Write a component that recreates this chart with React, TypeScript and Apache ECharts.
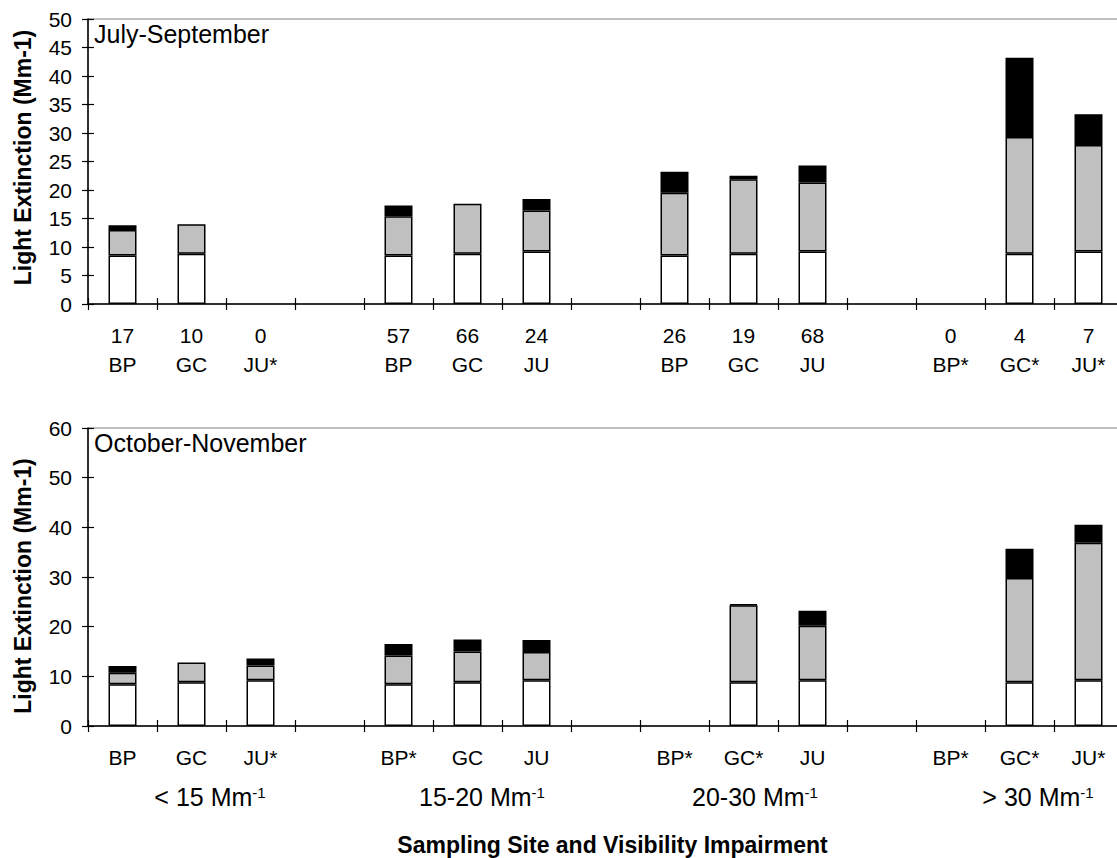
import React, { useEffect, useRef } from "react";
import * as echarts from "echarts";

// ---------- data ----------
const categoryIds = ["0", "1", "2", "3", "4", "5", "6", "7", "8", "9", "10", "11", "12", "13", "14"];

const topCounts = ["17", "10", "0", "", "57", "66", "24", "", "26", "19", "68", "", "0", "4", "7"];
const topSites = ["BP", "GC", "JU*", "", "BP", "GC", "JU", "", "BP", "GC", "JU", "", "BP*", "GC*", "JU*"];
const bottomSites = ["BP", "GC", "JU*", "", "BP*", "GC", "JU", "", "BP*", "GC*", "JU", "", "BP*", "GC*", "JU*"];

// July-September
const topWhite = [8.5, 8.8, null, null, 8.5, 8.8, 9.2, null, 8.5, 8.8, 9.2, null, null, 8.8, 9.2];
const topGray = [4.5, 5.2, null, null, 6.9, 8.8, 7.2, null, 11.0, 13.1, 12.1, null, null, 20.5, 18.7];
const topBlack = [0.8, null, null, null, 1.9, null, 2.0, null, 3.7, 0.6, 3.0, null, null, 13.9, 5.4];

// October-November
const bottomWhite = [8.4, 8.8, 9.2, null, 8.4, 8.8, 9.2, null, null, 8.8, 9.2, null, null, 8.8, 9.2];
const bottomGray = [2.3, 4.0, 3.0, null, 5.8, 6.2, 5.7, null, null, 15.5, 11.0, null, null, 21.0, 27.7];
const bottomBlack = [1.4, null, 1.4, null, 2.3, 2.4, 2.4, null, null, 0.2, 3.0, null, null, 5.9, 3.6];

const groupLabels = ["< 15 Mm", "15-20 Mm", "20-30 Mm", "> 30 Mm"];
const groupSup = "-1";

const topAxisMax = 50;
const topAxisStep = 5;
const bottomAxisMax = 60;
const bottomAxisStep = 10;

const panelTitles = ["July-September", "October-November"];
const yTitle = "Light Extinction (Mm-1)";
const xTitle = "Sampling Site and Visibility Impairment";

// ---------- styles ----------
const FONT = "'Liberation Sans', Arial, sans-serif";
const GRIDS = [
  { left: 88, top: 19, width: 1035, height: 285 },
  { left: 88, top: 428, width: 1035, height: 298 },
];
const groupX = [210, 482, 755, 1038];

export default function App() {
  const ref = useRef<HTMLDivElement>(null);

  useEffect(() => {
    if (!ref.current) return;
    const chart = echarts.init(ref.current, undefined, { renderer: "svg" });

    const axisLine = { show: true, lineStyle: { color: "#000", width: 1.5 } };
    const tickStyle = { color: "#000", width: 1.2 };

    const makeX = (gridIndex: number, labels: (i: number) => string) => [
      {
        type: "category",
        gridIndex,
        data: categoryIds,
        boundaryGap: true,
        position: "bottom",
        axisLine,
        axisTick: { show: true, inside: false, length: 6, lineStyle: tickStyle, interval: 0 },
        axisLabel: {
          interval: 0,
          margin: 16.5,
          fontSize: 21,
          lineHeight: 29,
          color: "#000",
          fontFamily: FONT,
          formatter: (_v: string, i: number) => labels(i),
        },
        splitLine: { show: false },
        z: 5,
      },
      {
        type: "category",
        gridIndex,
        data: categoryIds,
        boundaryGap: true,
        position: "bottom",
        axisLine: { show: false },
        axisTick: { show: true, inside: true, length: 6, lineStyle: tickStyle, interval: 0 },
        axisLabel: { show: false },
        splitLine: { show: false },
        z: 5,
      },
    ];

    const makeY = (gridIndex: number, max: number, step: number) => [
      {
        type: "value",
        gridIndex,
        min: 0,
        max,
        interval: step,
        position: "left",
        axisLine,
        axisTick: { show: true, inside: false, length: 6, lineStyle: tickStyle },
        axisLabel: { margin: 16, fontSize: 21, color: "#000", fontFamily: FONT },
        splitLine: { show: false },
        z: 5,
      },
      {
        type: "value",
        gridIndex,
        min: 0,
        max,
        interval: step,
        position: "left",
        axisLine: { show: false },
        axisTick: { show: true, inside: true, length: 6, lineStyle: tickStyle },
        axisLabel: { show: false },
        splitLine: { show: false },
        z: 5,
      },
    ];

    const barSeries = (
      name: string,
      data: (number | null)[],
      color: string,
      axisIndex: number,
      stack: string
    ) => ({
      type: "bar",
      name,
      data,
      stack,
      xAxisIndex: axisIndex,
      yAxisIndex: axisIndex,
      barWidth: 28,
      itemStyle: { color, borderColor: "#000", borderWidth: 1.5 },
      z: 3,
    });

    const groupTexts = groupLabels.map((g, i) => ({
      type: "text",
      x: groupX[i],
      y: 797,
      style: {
        text: `{a|${g}}{b|${groupSup}}`,
        align: "center",
        verticalAlign: "middle",
        fill: "#000",
        rich: {
          a: { fontSize: 25, fontFamily: FONT, fill: "#000" },
          b: { fontSize: 15, fontFamily: FONT, fill: "#000", verticalAlign: "top" },
        },
      },
    }));

    chart.setOption({
      animation: false,
      backgroundColor: "#fff",
      grid: GRIDS.map((g) => ({
        ...g,
        show: true,
        borderColor: "#808080",
        borderWidth: 1,
        backgroundColor: "transparent",
        containLabel: false,
      })),
      xAxis: [
        ...makeX(0, (i) => (topSites[i] ? `${topCounts[i]}\n${topSites[i]}` : "")),
        ...makeX(1, (i) => bottomSites[i]),
      ],
      yAxis: [...makeY(0, topAxisMax, topAxisStep), ...makeY(1, bottomAxisMax, bottomAxisStep)],
      series: [
        barSeries("white-top", topWhite, "#ffffff", 0, "top"),
        barSeries("gray-top", topGray, "#c0c0c0", 0, "top"),
        barSeries("black-top", topBlack, "#000000", 0, "top"),
        barSeries("white-bottom", bottomWhite, "#ffffff", 2, "bottom"),
        barSeries("gray-bottom", bottomGray, "#c0c0c0", 2, "bottom"),
        barSeries("black-bottom", bottomBlack, "#000000", 2, "bottom"),
      ],
      graphic: [
        {
          type: "text",
          x: 94,
          y: 34,
          style: { text: panelTitles[0], fontSize: 25, fontFamily: FONT, fill: "#000", verticalAlign: "middle" },
        },
        {
          type: "text",
          x: 94,
          y: 443,
          style: { text: panelTitles[1], fontSize: 25, fontFamily: FONT, fill: "#000", verticalAlign: "middle" },
        },
        {
          type: "text",
          x: 23,
          y: 157.5,
          rotation: Math.PI / 2,
          style: {
            text: yTitle,
            fontSize: 23,
            fontWeight: "bold",
            fontFamily: FONT,
            fill: "#000",
            align: "center",
            verticalAlign: "middle",
          },
        },
        {
          type: "text",
          x: 23,
          y: 586,
          rotation: Math.PI / 2,
          style: {
            text: yTitle,
            fontSize: 23,
            fontWeight: "bold",
            fontFamily: FONT,
            fill: "#000",
            align: "center",
            verticalAlign: "middle",
          },
        },
        {
          type: "text",
          x: 612.5,
          y: 845,
          style: {
            text: xTitle,
            fontSize: 23,
            fontWeight: "bold",
            fontFamily: FONT,
            fill: "#000",
            align: "center",
            verticalAlign: "middle",
          },
        },
        ...groupTexts,
      ],
    });

    return () => {
      chart.dispose();
    };
  }, []);

  return (
    <div
      style={{
        position: "absolute",
        left: 0,
        top: 0,
        width: 1117,
        height: 858,
        overflow: "hidden",
        background: "#fff",
      }}
    >
      <div ref={ref} style={{ width: 1123, height: 858 }} />
    </div>
  );
}
